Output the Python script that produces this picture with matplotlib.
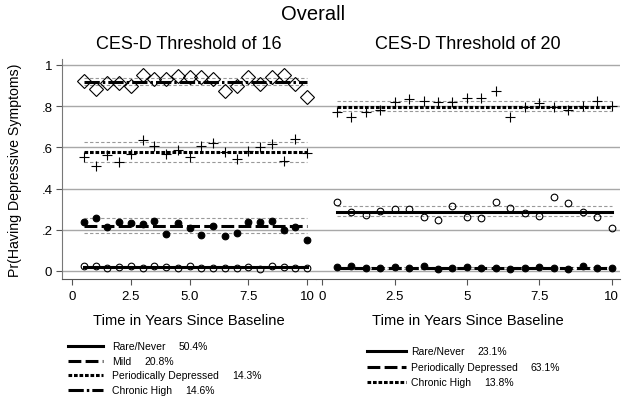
import matplotlib
matplotlib.use("Agg")
import matplotlib.pyplot as plt
from matplotlib.lines import Line2D
import numpy as np

plt.rcParams['font.family'] = ['Liberation Sans', 'DejaVu Sans']

years = [0.5, 1, 1.5, 2, 2.5, 3, 3.5, 4, 4.5, 5, 5.5, 6, 6.5, 7, 7.5, 8, 8.5, 9, 9.5, 10]

# Left panel: CES-D threshold 16
l_chronic_obs = [0.921, 0.883, 0.911, 0.911, 0.897, 0.951, 0.932, 0.932, 0.948, 0.940,
                 0.940, 0.932, 0.875, 0.897, 0.940, 0.908, 0.940, 0.951, 0.908, 0.843]
l_chronic_fit, l_chronic_ci = 0.919, (0.904, 0.935)
l_period_obs = [0.552, 0.511, 0.563, 0.531, 0.568, 0.636, 0.605, 0.568, 0.589, 0.552,
                0.608, 0.620, 0.576, 0.544, 0.584, 0.600, 0.617, 0.536, 0.641, 0.571]
l_period_fit, l_period_ci = 0.576, (0.528, 0.625)
l_mild_obs = [0.239, 0.256, 0.212, 0.239, 0.233, 0.228, 0.244, 0.180, 0.233, 0.207,
              0.176, 0.217, 0.171, 0.183, 0.236, 0.239, 0.244, 0.199, 0.215, 0.150]
l_mild_fit, l_mild_ci = 0.217, (0.184, 0.256)
l_rare_obs = [0.023, 0.026, 0.015, 0.021, 0.026, 0.015, 0.026, 0.021, 0.016, 0.026,
              0.015, 0.016, 0.016, 0.013, 0.021, 0.010, 0.026, 0.019, 0.016, 0.013]
l_rare_fit, l_rare_ci = 0.018, (0.014, 0.022)

# Right panel: CES-D threshold 20
r_chronic_obs = [0.773, 0.746, 0.770, 0.782, 0.819, 0.835, 0.824, 0.819, 0.819, 0.838,
                 0.838, 0.875, 0.746, 0.794, 0.814, 0.794, 0.782, 0.802, 0.827, 0.802]
r_chronic_fit, r_chronic_ci = 0.798, (0.778, 0.827)
r_rare_obs = [0.337, 0.288, 0.273, 0.293, 0.301, 0.301, 0.264, 0.249, 0.317, 0.264,
              0.256, 0.337, 0.304, 0.280, 0.268, 0.361, 0.329, 0.285, 0.264, 0.209]
r_rare_fit, r_rare_ci = 0.288, (0.265, 0.314)
r_period_obs = [0.021, 0.026, 0.015, 0.015, 0.021, 0.015, 0.023, 0.010, 0.015, 0.021,
                0.013, 0.015, 0.010, 0.013, 0.019, 0.015, 0.010, 0.024, 0.015, 0.013]
r_period_fit, r_period_ci = 0.015, (0.011, 0.019)

left_legend = [("Rare/Never", "50.4%"), ("Mild", "20.8%"),
               ("Periodically Depressed", "14.3%"), ("Chronic High", "14.6%")]
right_legend = [("Rare/Never", "23.1%"), ("Periodically Depressed", "63.1%"),
                ("Chronic High", "13.8%")]

W, H = 626, 402
fig = plt.figure(figsize=(W / 100, H / 100), dpi=100)

def px_axes(x0, y0, x1, y1):
    return fig.add_axes([x0 / W, 1 - y1 / H, (x1 - x0) / W, (y1 - y0) / H])

ls_solid = '-'
ls_dash = (0, (4.2, 1.4))
ls_dot = (0, (1.2, 0.6))
ls_dashdot = (0, (5, 1.0, 0.8, 1.0))

gray = '#999999'

def style(ax, xlim, xticks, xlabels, show_y):
    ax.set_xlim(*xlim)
    ax.set_ylim(-0.039, 1.029)
    ax.set_yticks([0, 0.2, 0.4, 0.6, 0.8, 1.0])
    for y in [0, 0.2, 0.4, 0.6, 0.8, 1.0]:
        ax.axhline(y, color='#a8a8a8', lw=1.0, zorder=0)
    ax.set_xticks(xticks)
    ax.set_xticklabels(xlabels, fontsize=9.5)
    ax.spines['top'].set_visible(False)
    ax.spines['right'].set_visible(False)
    ax.spines['bottom'].set_color('#555555')
    ax.tick_params(axis='x', length=4, color='#555555', pad=4)
    if show_y:
        ax.set_yticklabels(['0', '.2', '.4', '.6', '.8', '1'], fontsize=9.5)
        ax.spines['left'].set_color('#777777')
        ax.tick_params(axis='y', length=4, color='#555555', pad=3)
    else:
        ax.spines['left'].set_visible(False)
        ax.tick_params(axis='y', length=0, labelleft=False)
    ax.set_xlabel('Time in Years Since Baseline', fontsize=10.6, labelpad=8)

def series(ax, obs, fit, ci, ls, marker, mfc, ms, xs):
    x0, x1 = xs[0], xs[-1]
    ax.plot([x0, x1], [ci[0], ci[0]], color=gray, lw=0.8, ls=(0, (3, 2)), zorder=2)
    ax.plot([x0, x1], [ci[1], ci[1]], color=gray, lw=0.8, ls=(0, (3, 2)), zorder=2)
    ax.plot([x0, x1], [fit, fit], color='black', lw=2.2, ls=ls, zorder=3)
    ax.plot(xs, obs, ls='none', marker=marker, ms=ms, mfc=mfc, mec='black',
            mew=0.8, zorder=4)

# Left panel
axL = px_axes(62, 60, 316, 280)
style(axL, (-0.43, 10.38), [0, 2.5, 5, 7.5, 10], ['0', '2.5', '5.0', '7.5', '10'], True)
axL.set_ylabel('Pr(Having Depressive Symptoms)', fontsize=10.2, labelpad=14)
series(axL, l_chronic_obs, l_chronic_fit, l_chronic_ci, ls_dashdot, 'D', 'none', 7, years)
series(axL, l_period_obs, l_period_fit, l_period_ci, ls_dot, '+', 'none', 6.5, years)
series(axL, l_mild_obs, l_mild_fit, l_mild_ci, ls_dash, 'o', 'black', 4.8, years)
series(axL, l_rare_obs, l_rare_fit, l_rare_ci, ls_solid, 'o', 'none', 4.8, years)
axL.set_title('CES-D Threshold of 16', fontsize=13, pad=8)

# Right panel
axR = px_axes(316, 60, 620, 280)
style(axR, (-0.21, 10.28), [0, 2.5, 5, 7.5, 10], ['0', '2.5', '5', '7.5', '10'], False)
series(axR, r_chronic_obs, r_chronic_fit, r_chronic_ci, ls_dot, '+', 'none', 6.5, years)
series(axR, r_rare_obs, r_rare_fit, r_rare_ci, ls_solid, 'o', 'none', 4.8, years)
series(axR, r_period_obs, r_period_fit, r_period_ci, ls_dash, 'o', 'black', 4.8, years)
axR.set_title('CES-D Threshold of 20', fontsize=13, pad=8)

fig.text(313 / W, 1 - 15 / H, 'Overall', fontsize=14.5, ha='center', va='center')

def legend_block(items, styles, x_line0, x_line1, x_text, ys):
    renderer = fig.canvas.get_renderer()
    for (lab, pct), ls, y in zip(items, styles, ys):
        yf = 1 - y / H
        fig.add_artist(Line2D([x_line0 / W, x_line1 / W], [yf, yf], color='black',
                              lw=2.2, ls=ls, transform=fig.transFigure))
        t = fig.text(x_text / W, yf, lab, fontsize=7.5, va='center', ha='left')
        bb = t.get_window_extent(renderer=renderer)
        fig.text((bb.x1 + 13) / W, yf, pct, fontsize=7.5, va='center', ha='left')

legend_block(left_legend, [ls_solid, ls_dash, ls_dot, ls_dashdot], 68, 103, 112,
             [347, 362, 376, 391])
legend_block(right_legend, [ls_solid, ls_dash, ls_dot], 367, 406, 411,
             [352, 368, 383])

fig.savefig('out.png', dpi=100)
